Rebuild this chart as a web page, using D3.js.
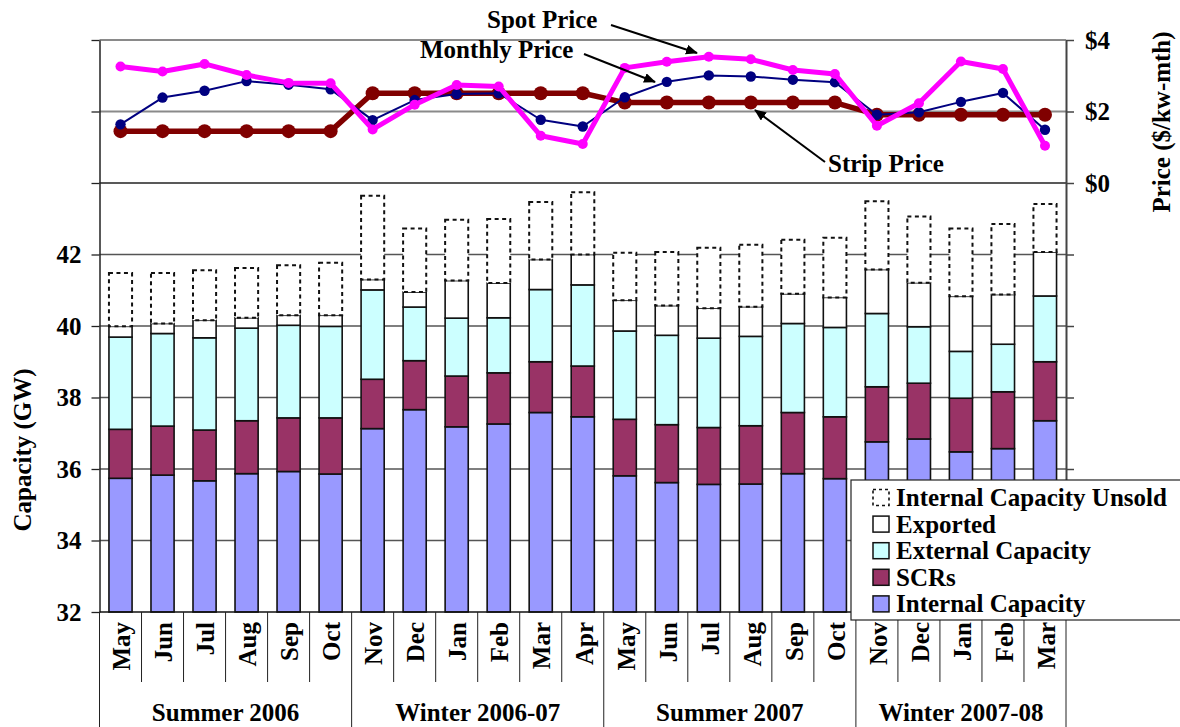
<!DOCTYPE html>
<html>
<head>
<meta charset="utf-8">
<script src="https://cdn.jsdelivr.net/npm/d3@7"></script>
<style>
  html, body { margin: 0; padding: 0; background: #fff; }
  svg text { font-family: "Liberation Serif", "Times New Roman", serif; font-weight: bold; fill: #000; }
</style>
</head>
<body>
<svg id="chart" width="1180" height="727"></svg>
<script>
// Months of the capability periods
const months = ["May","Jun","Jul","Aug","Sep","Oct","Nov","Dec","Jan","Feb","Mar","Apr",
                "May","Jun","Jul","Aug","Sep","Oct","Nov","Dec","Jan","Feb","Mar"];
const seasonNames = ["Summer 2006","Winter 2006-07","Summer 2007","Winter 2007-08"];
const seasonLengths = [6, 6, 6, 5];

// Capacity components (GW), stacked bottom to top
const internalCap = [35.74,35.83,35.67,35.87,35.93,35.86,37.13,37.66,37.18,37.26,37.58,37.46,
                     35.81,35.62,35.57,35.58,35.87,35.73,36.76,36.84,36.48,36.57,37.35];
const scrs        = [1.37,1.37,1.42,1.48,1.50,1.57,1.38,1.37,1.42,1.43,1.42,1.42,
                     1.58,1.62,1.59,1.63,1.71,1.73,1.54,1.56,1.50,1.59,1.65];
const externalCap = [2.58,2.59,2.58,2.59,2.59,2.56,2.50,1.50,1.62,1.54,2.02,2.27,
                     2.47,2.50,2.50,2.50,2.49,2.50,2.05,1.58,1.31,1.33,1.84];
const exported    = [0.30,0.28,0.49,0.29,0.28,0.31,0.29,0.42,1.05,0.97,0.84,0.85,
                     0.86,0.83,0.84,0.83,0.83,0.84,1.23,1.23,1.54,1.39,1.23];
const unsold      = [1.49,1.41,1.40,1.39,1.40,1.47,2.34,1.78,1.70,1.79,1.61,1.74,
                     1.33,1.50,1.69,1.73,1.51,1.67,1.91,1.85,1.90,1.97,1.34];

// Capacity prices ($/kW-month)
const stripPrice   = [1.45,1.45,1.45,1.45,1.45,1.45,2.51,2.51,2.51,2.51,2.51,2.51,
                      2.25,2.25,2.25,2.25,2.25,2.25,1.91,1.91,1.91,1.91,1.91];
const monthlyPrice = [1.64,2.39,2.58,2.85,2.75,2.62,1.76,2.32,2.49,2.51,1.77,1.58,
                      2.40,2.83,3.01,2.98,2.89,2.82,1.91,1.98,2.27,2.52,1.49];
const spotPrice    = [3.26,3.12,3.33,3.02,2.80,2.79,1.50,2.19,2.74,2.70,1.32,1.09,
                      3.22,3.39,3.53,3.46,3.16,3.05,1.60,2.23,3.40,3.19,1.04];

const capTicks = [32,34,36,38,40,42,44,46,48];
const priceTicks = [-12,-10,-8,-6,-4,-2,0,2,4];

const keys = ["internal","scrs","external","exported","unsold"];
const seriesLabels = {
  unsold: "Internal Capacity Unsold",
  exported: "Exported",
  external: "External Capacity",
  scrs: "SCRs",
  internal: "Internal Capacity"
};
const fills = { internal: "#9999FF", scrs: "#993366", external: "#CCFFFF", exported: "#FFFFFF", unsold: "#FFFFFF" };

const svg = d3.select("#chart");
const plotLeft = 99.5, plotRight = 1066, plotTop = 40, plotBottom = 612;
const idx = d3.range(months.length);

const slot = d3.scaleBand().domain(idx).range([plotLeft, plotRight]);
const x = d3.scaleBand().domain(idx).range([plotLeft, plotRight]).paddingInner(0.45).paddingOuter(0.225);
const y = d3.scaleLinear().domain([32, 48]).range([plotBottom, plotTop]).clamp(true);
const yp = d3.scaleLinear().domain([-12, 4]).range([plotBottom, plotTop]);

// Gridlines
svg.append("g").selectAll("line").data(capTicks.filter(d => d > 32)).join("line")
  .attr("x1", plotLeft).attr("x2", plotRight)
  .attr("y1", d => y(d)).attr("y2", d => y(d))
  .attr("stroke", d => d > 44 ? "#8a8a8a" : (d === 44 ? "#222" : "#555"))
  .attr("stroke-width", d => d > 44 ? 2 : 1.3);

// Stacked capacity bars
const rows = idx.map(i => ({
  i, internal: internalCap[i], scrs: scrs[i], external: externalCap[i],
  exported: exported[i], unsold: unsold[i]
}));
const stacked = d3.stack().keys(keys)(rows);

const barG = svg.append("g");
stacked.forEach(layer => {
  const k = layer.key;
  barG.append("g").selectAll("rect").data(layer).join("rect")
    .attr("x", d => x(d.data.i))
    .attr("width", x.bandwidth())
    .attr("y", d => y(d[1]))
    .attr("height", d => y(d[0]) - y(d[1]))
    .attr("fill", fills[k])
    .attr("stroke", "#111")
    .attr("stroke-width", k === "unsold" ? 2 : 1.6)
    .attr("stroke-dasharray", k === "unsold" ? "4,3.5" : null);
});

// Left axis
const axL = svg.append("g").attr("transform", `translate(${plotLeft},0)`)
  .call(d3.axisLeft(y).tickValues(capTicks).tickSize(8).tickSizeOuter(0).tickPadding(10)
    .tickFormat(d => d <= 42 ? d : ""));
axL.select(".domain").attr("stroke", "#222").attr("stroke-width", 1.5);
axL.selectAll(".tick line").attr("stroke", "#222").attr("stroke-width", 1.3);
axL.selectAll(".tick text").attr("font-size", 25).style("font-family", "Liberation Serif").style("font-weight", "bold").attr("fill", "#000");

// Right (price) axis
const axR = svg.append("g").attr("transform", `translate(${plotRight},0)`)
  .call(d3.axisRight(yp).tickValues(priceTicks).tickSize(8).tickSizeOuter(0).tickPadding(11)
    .tickFormat(d => d >= 0 ? "$" + d : ""));
axR.select(".domain").attr("stroke", "#444").attr("stroke-width", 2);
axR.selectAll(".tick line").attr("stroke", "#444").attr("stroke-width", 1.5);
axR.selectAll(".tick text").attr("font-size", 25).style("font-family", "Liberation Serif").style("font-weight", "bold").attr("fill", "#000");

// Category axis: baseline, month dividers, month labels, season groups
svg.append("line").attr("x1", plotLeft).attr("x2", plotRight).attr("y1", plotBottom).attr("y2", plotBottom)
  .attr("stroke", "#111").attr("stroke-width", 1.5);

const seasonStarts = seasonLengths.map((n, s) => d3.sum(seasonLengths.slice(0, s)));
const boundaries = d3.range(months.length + 1);
svg.append("g").selectAll("line").data(boundaries).join("line")
  .attr("x1", b => b < months.length ? slot(b) : plotRight)
  .attr("x2", b => b < months.length ? slot(b) : plotRight)
  .attr("y1", plotBottom)
  .attr("y2", b => (seasonStarts.includes(b) || b === months.length) ? 727 : 682)
  .attr("stroke", "#222").attr("stroke-width", 1);

svg.append("g").selectAll("text").data(idx).join("text")
  .attr("transform", i => `translate(${slot(i) + slot.bandwidth() / 2 + 1},622) rotate(-90)`)
  .attr("text-anchor", "end")
  .attr("dy", "0.35em")
  .attr("font-size", 25)
  .text(i => months[i]);

svg.append("g").selectAll("text").data(seasonNames).join("text")
  .attr("x", (d, s) => {
    const a = slot(seasonStarts[s]);
    const e = seasonStarts[s] + seasonLengths[s];
    const b = e < months.length ? slot(e) : plotRight;
    return (a + b) / 2;
  })
  .attr("y", 721)
  .attr("text-anchor", "middle")
  .attr("font-size", 25)
  .text(d => d);

// Price lines: strip underneath, monthly, then spot on top
const priceSeries = [
  { values: stripPrice,   color: "#800000", width: 5.5, r: 7 },
  { values: monthlyPrice, color: "#000080", width: 2,   r: 5.2 },
  { values: spotPrice,    color: "#FF00FF", width: 5,   r: 5 }
];
const line = d3.line().x((d, i) => x(i) + x.bandwidth() / 2).y(d => yp(d));
priceSeries.forEach(s => {
  const g = svg.append("g");
  g.append("path").datum(s.values).attr("d", line)
    .attr("fill", "none").attr("stroke", s.color).attr("stroke-width", s.width)
    .attr("stroke-linejoin", "round");
  g.selectAll("circle").data(s.values).join("circle")
    .attr("cx", (d, i) => x(i) + x.bandwidth() / 2)
    .attr("cy", d => yp(d))
    .attr("r", s.r)
    .attr("fill", s.color);
});

// Series callouts with arrows
const defs = svg.append("defs");
defs.append("marker").attr("id", "arrow").attr("viewBox", "0 0 12 10")
  .attr("refX", 11).attr("refY", 5).attr("markerWidth", 12).attr("markerHeight", 10)
  .attr("markerUnits", "userSpaceOnUse").attr("orient", "auto")
  .append("path").attr("d", "M0,0 L12,5 L0,10 Z").attr("fill", "#000");

const callouts = [
  { text: "Spot Price",    tx: 487, ty: 28,  ax1: 611, ay1: 25,  ax2: 697, ay2: 53 },
  { text: "Monthly Price", tx: 420, ty: 58,  ax1: 584, ay1: 54,  ax2: 655, ay2: 82 },
  { text: "Strip Price",   tx: 828, ty: 172, ax1: 825, ay1: 162, ax2: 755, ay2: 110 }
];
const cg = svg.append("g");
callouts.forEach(c => {
  cg.append("text").attr("x", c.tx).attr("y", c.ty).attr("font-size", 25).text(c.text);
  cg.append("line").attr("x1", c.ax1).attr("y1", c.ay1).attr("x2", c.ax2).attr("y2", c.ay2)
    .attr("stroke", "#000").attr("stroke-width", 2).attr("marker-end", "url(#arrow)");
});

// Axis titles
svg.append("text")
  .attr("transform", "translate(31,450) rotate(-90)")
  .attr("text-anchor", "middle").attr("font-size", 25)
  .text("Capacity (GW)");
svg.append("text")
  .attr("transform", "translate(1170,122) rotate(-90)")
  .attr("text-anchor", "middle").attr("font-size", 25)
  .text("Price ($/kw-mth)");

// Legend
const lg = svg.append("g");
lg.append("rect").attr("x", 851).attr("y", 480).attr("width", 340).attr("height", 140)
  .attr("fill", "#fff").attr("stroke", "#222").attr("stroke-width", 1.2);
const legendKeys = ["unsold","exported","external","scrs","internal"];
legendKeys.forEach((k, j) => {
  const cy = 497.5 + j * 26.6;
  lg.append("rect").attr("x", 873).attr("y", cy - 8).attr("width", 16).attr("height", 16)
    .attr("fill", fills[k]).attr("stroke", "#111").attr("stroke-width", k === "unsold" ? 1.6 : 1.5)
    .attr("stroke-dasharray", k === "unsold" ? "3,3" : null);
  lg.append("text").attr("x", 896).attr("y", cy + 8.5).attr("font-size", 25).text(seriesLabels[k]);
});
</script>
</body>
</html>
